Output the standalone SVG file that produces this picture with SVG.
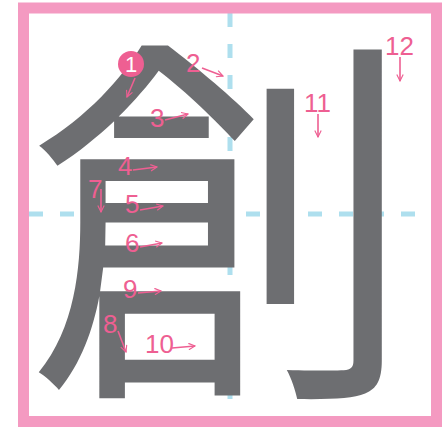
<svg xmlns="http://www.w3.org/2000/svg" width="443" height="427" viewBox="0 0 443 427">
<defs>
<style>
.grid{stroke:#AEDFEE;stroke-width:5;stroke-dasharray:14 17;fill:none}
.num{font-family:"Liberation Sans",Arial,sans-serif;font-size:26px;fill:#EE5F92}
.arr{stroke:#EE5F92;stroke-width:1.6;fill:none;marker-end:url(#ah)}
.char{font-family:"Noto Sans CJK JP","Noto Sans CJK SC",sans-serif;fill:#6D6E71}
</style>
<marker id="ah" viewBox="0 0 10 10" refX="9" refY="5" markerWidth="8" markerHeight="8" orient="auto" markerUnits="userSpaceOnUse">
<path d="M1,1 L9,5 L1,9" fill="none" stroke="#EE5F92" stroke-width="1.4"/>
</marker>
</defs>
<rect x="0" y="0" width="443" height="427" fill="#FFFFFF"/>
<g id="grid">
<line class="grid" x1="230" y1="13" x2="230" y2="416"/>
<line class="grid" x1="29" y1="214" x2="432" y2="214"/>
</g>
<g id="border">
<rect x="23.5" y="8" width="413" height="413.5" fill="none" stroke="#F49AC1" stroke-width="11"/>
</g>
<g id="character">
<text class="char" x="220" y="368" font-size="388" text-anchor="middle">創</text>
</g>
<g id="labels">
<circle cx="131" cy="64" r="13" fill="#EE5F92"/>
<text x="131" y="72" font-family="Liberation Sans,Arial,sans-serif" font-size="22" text-anchor="middle" fill="#FFFFFF">1</text>
<text class="num" x="186" y="72">2</text>
<text class="num" x="150" y="127">3</text>
<text class="num" x="118" y="175">4</text>
<text class="num" x="125" y="213">5</text>
<text class="num" x="125" y="252">6</text>
<text class="num" x="88" y="198">7</text>
<text class="num" x="103" y="333">8</text>
<text class="num" x="123" y="298">9</text>
<text class="num" x="145" y="353">10</text>
<text class="num" x="304" y="112">11</text>
<text class="num" x="385" y="55">12</text>
</g>
<g id="connectors">
<line class="arr" x1="135" y1="78" x2="127" y2="97"/>
<line class="arr" x1="202" y1="68" x2="223" y2="76"/>
<line class="arr" x1="165" y1="120" x2="188" y2="114"/>
<line class="arr" x1="133" y1="170" x2="157" y2="167"/>
<line class="arr" x1="140" y1="210" x2="163" y2="206"/>
<line class="arr" x1="140" y1="247" x2="162" y2="243"/>
<line class="arr" x1="101" y1="189" x2="101" y2="212"/>
<line class="arr" x1="118" y1="331" x2="126" y2="352"/>
<line class="arr" x1="138" y1="293" x2="161" y2="291"/>
<line class="arr" x1="172" y1="348" x2="195" y2="346"/>
<line class="arr" x1="318" y1="114" x2="318" y2="137"/>
<line class="arr" x1="400" y1="57" x2="400" y2="81"/>
</g>
</svg>
